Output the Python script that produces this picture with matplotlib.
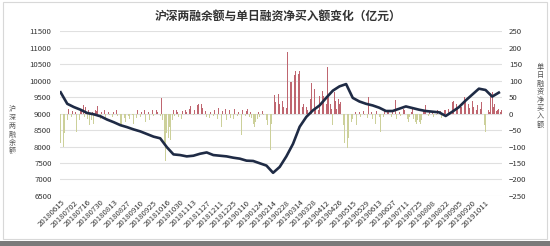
import numpy as np
import matplotlib
matplotlib.use("Agg")
import matplotlib.pyplot as plt
from matplotlib.patches import Rectangle

plt.rcParams['font.family'] = ['Noto Sans CJK SC', 'DejaVu Sans']

# x tick labels, one every 10 trading days
date_labels = ["20180615", "20180702", "20180716", "20180730", "20180813", "20180827",
               "20180910", "20180925", "20181016", "20181030", "20181113", "20181127",
               "20181211", "20181225", "20190110", "20190124", "20190214", "20190228",
               "20190314", "20190328", "20190412", "20190426", "20190515", "20190529",
               "20190613", "20190627", "20190711", "20190725", "20190808", "20190822",
               "20190905", "20190920", "20191011"]

# daily net financing buy (right axis)
net_buy = [
    -90, -210, -100, -60, 10, -20, 15, -25, -10, 8,
    -15, 5, -55, -40, -20, 12, 8, 25, -10, 20,
    -15, 10, -35, -20, 5, -30, 12, 8, 22, -10,
    -15, 5, -8, 10, -20, -12, 6, -5, 8, -10,
    5, 8, 12, -6, -10, -35, -30, 6, -12, -25,
    10, -8, -15, 12, -5, -30, 8, -12, 10, -20,
    -10, 6, -15, 12, -25, -8, 5, -18, -30, 10,
    -6, -12, 10, 6, -15, -8, 47, -20, -90, -145,
    -60, -75, -40, -80, -20, 10, -8, 12, 6, -10,
    5, -15, 8, -12, 10, 4, -6, 15, 22, 18,
    -5, 12, 28, 25, 30, 20, 28, 18, -6, 8,
    -10, 5, -12, 6, 3, -8, 10, 15, -15, 18,
    12, -40, 8, -10, 15, -20, 6, 12, -12, 8,
    -15, 15, 10, -8, 6, -12, -65, 10, 12, -6,
    8, 15, -10, 5, -12, -30, -40, -25, -15, 6,
    -10, 5, 8, -5, -12, -20, -35, -70, -112, -30,
    62, 58, 36, 55, 60, 30, 50, 40, 20, 25,
    18, 188, 30, 97, 95, 12, 118, 130, 158, 120,
    130, 95, 20, 30, 40, 20, 12, 55, 45, 92,
    25, 75, 15, -12, 10, 55, 88, 70, 55, 45,
    30, 143, 50, 30, 15, -35, 66, 40, 15, 45,
    30, 35, 20, -35, -90, -60, -105, -75, -40, -25,
    -15, -10, 5, -35, -20, 5, -10, -65, 8, -5,
    10, -12, 52, -40, 6, -15, -35, -30, 8, -20,
    -10, -55, 6, -10, 8, -50, 10, 8, 15, -10,
    8, 26, 41, -15, 10, 5, -8, 56, 15, 10,
    -20, -15, -25, -10, 5, 20, -15, -25, -30, -20,
    -25, -30, -20, 10, 6, 25, 12, -8, 5, 26,
    8, -10, 6, -5, 10, -50, 8, -12, 5, 10,
    12, 8, 15, 6, 115, 35, 40, 25, 30, 20,
    25, 30, 20, 28, 50, 40, 35, 30, 18, 112,
    40, 20, -50, 10, 25, 20, 15, 35, 8, -35,
    -55, -45, 10, 6, 62, 66, 20, 30, 8, 10,
    15, 5, 10,
]

# margin balance (left axis), sampled every 5 trading days
balance = [9650, 9300, 9200, 9120, 9020, 8980, 8920, 8820, 8740, 8650,
           8590, 8520, 8460, 8380, 8300, 8250, 7980, 7760, 7740, 7700,
           7720, 7780, 7820, 7740, 7720, 7700, 7660, 7630, 7570, 7560,
           7490, 7420, 7200, 7380, 7700, 8080, 8600, 8900, 9100, 9250,
           9480, 9700, 9830, 9900, 9480, 9370, 9300, 9250, 9180, 9080,
           9080, 9150, 9220, 9170, 9120, 9080, 9060, 9040, 8930, 9060,
           9200, 9400, 9580, 9760, 9720, 9520, 9640]

n_days = len(net_buy)
day_idx = np.arange(n_days)
bal_idx = np.arange(len(balance)) * 5
tick_idx = np.arange(len(date_labels)) * 10

fig = plt.figure(figsize=(5.5, 2.46), dpi=100)
fig.patch.set_facecolor("white")
ax = fig.add_axes([0.109, 0.204, 0.804, 0.668])
ax2 = ax.twinx()

# bars on the secondary axis
net = np.array(net_buy)
colors = np.where(net >= 0, "#bf6670", "#ccd09a")
ax2.bar(day_idx, net, width=0.55, color=colors, linewidth=0)
ax2.set_ylim(-250, 250)
ax2.set_yticks(np.arange(-250, 251, 50))
ax2.grid(axis="y", color="#e0e0e0", linewidth=0.8)
ax2.set_axisbelow(True)

# balance line on primary axis, drawn above bars
ax.set_zorder(ax2.get_zorder() + 1)
ax.patch.set_visible(False)
ax.plot(bal_idx, balance, color="#1f2b45", linewidth=1.9, solid_joinstyle="round")
ax.set_ylim(6500, 11500)
ax.set_yticks(np.arange(6500, 11501, 500))
ax.set_xlim(-0.5, n_days - 0.5)
ax.set_xticks(tick_idx)
ax.set_xticklabels(date_labels, rotation=45, ha="right", rotation_mode="anchor",
                   fontsize=4.8, color="#555555")

for a in (ax, ax2):
    for s in a.spines.values():
        s.set_visible(False)
    a.tick_params(length=0, labelsize=5.6, colors="#333333")
ax.tick_params(axis="x", pad=2)
ax.tick_params(axis="y", pad=6)
ax2.tick_params(axis="y", pad=5)

fig.text(0.505, 0.935, "沪深两融余额与单日融资净买入额变化（亿元）", ha="center", va="center",
         fontsize=8.5, fontweight="bold", color="#333333")
fig.text(0.022, 0.47, "\n".join("沪深两融余额"), ha="center", va="center",
         fontsize=5, color="#555555", linespacing=1.05)
fig.text(0.982, 0.61, "\n".join("单日融资净买入额"), ha="center", va="center",
         fontsize=5.2, color="#555555", linespacing=1.05)

# outer frame and bottom strip of the screenshot
fig.add_artist(Rectangle((0.005, 0.03), 0.99, 0.96, transform=fig.transFigure,
                         fill=False, edgecolor="#d8d8d8", linewidth=0.8))
fig.add_artist(Rectangle((0, 0), 1, 0.022, transform=fig.transFigure,
                         facecolor="#7a7a7a", edgecolor="none"))

fig.savefig("out.png", dpi=100)
